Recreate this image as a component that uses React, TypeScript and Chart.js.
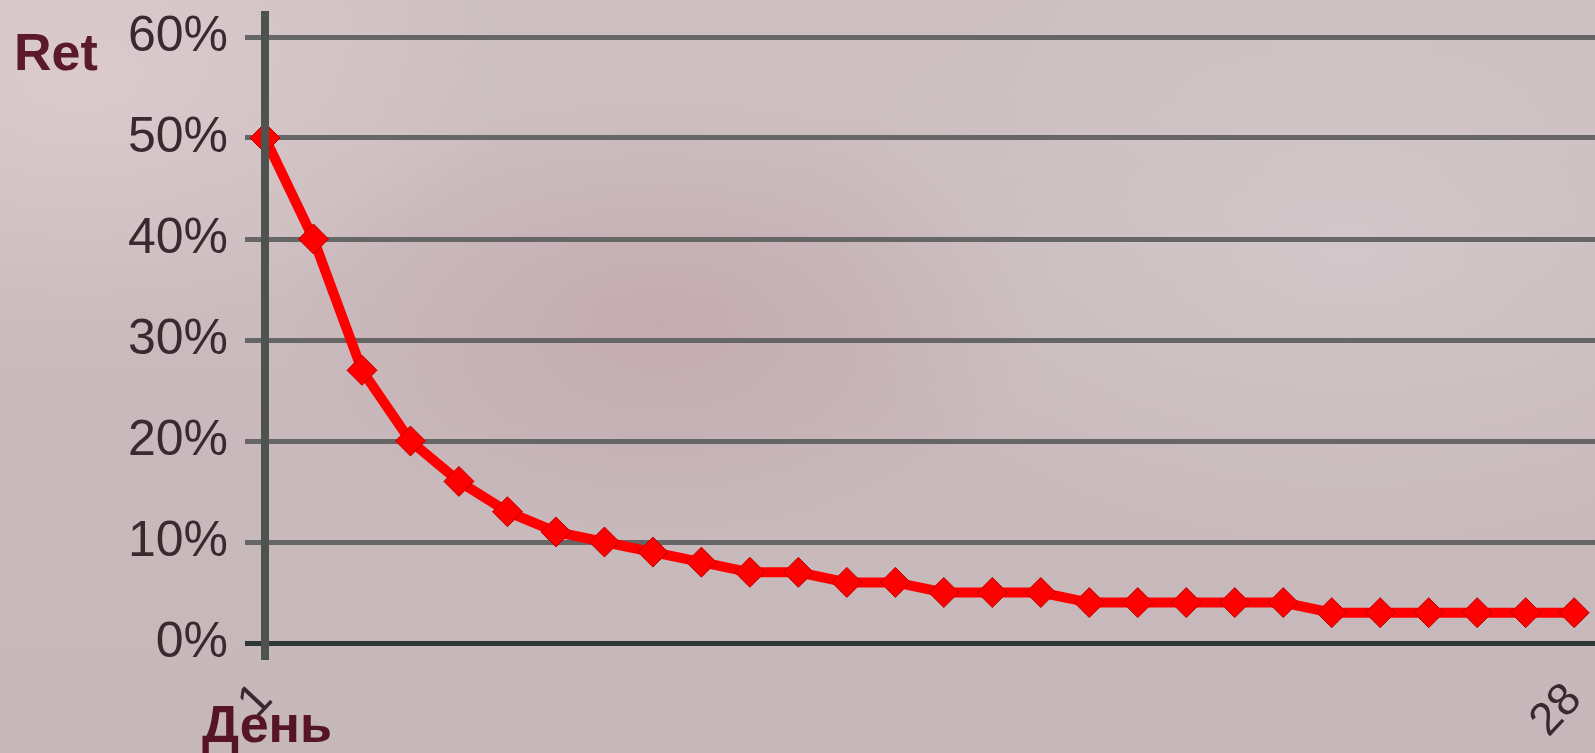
import React, { useEffect, useRef } from "react";
import { Chart, registerables } from "chart.js";

Chart.register(...registerables);

// ---- data ----
const dayNumbers = [1, 2, 3, 4, 5, 6, 7, 8, 9, 10, 11, 12, 13, 14, 15, 16, 17, 18, 19, 20, 21, 22, 23, 24, 25, 26, 27, 28];
const retentionPercent = [50, 40, 27, 20, 16, 13, 11, 10, 9, 8, 7, 7, 6, 6, 5, 5, 5, 4, 4, 4, 4, 4, 3, 3, 3, 3, 3, 3];
const shownDayTicks = [1, 28];
const yTickValues = [0, 10, 20, 30, 40, 50, 60];
const yAxisTitle = "Ret";
const xAxisTitle = "День";

const FONT = '"Liberation Sans", Arial, Helvetica, sans-serif';

const decorPlugin = {
  id: "decor",
  afterDatasetsDraw(chart: any) {
    const { ctx, chartArea, scales } = chart;
    const x0 = scales.x.getPixelForValue(dayNumbers[0]);
    ctx.save();
    ctx.strokeStyle = "#4e5350";
    ctx.lineWidth = 8;
    ctx.beginPath();
    ctx.moveTo(x0, chartArea.top - 26);
    ctx.lineTo(x0, chartArea.bottom + 17);
    ctx.stroke();
    ctx.restore();
  },
  afterDraw(chart: any) {
    const { ctx, scales } = chart;
    const x0 = scales.x.getPixelForValue(dayNumbers[0]);
    ctx.save();
    ctx.font = `bold 52px ${FONT}`;
    ctx.fillStyle = "#5a1a2b";
    ctx.textBaseline = "alphabetic";
    ctx.textAlign = "left";
    ctx.fillText(yAxisTitle, 14, 70);
    ctx.fillStyle = "#561526";
    ctx.textAlign = "center";
    ctx.fillText(xAxisTitle, x0 + 2, 742);
    ctx.restore();
  },
};

export default function App() {
  const canvasRef = useRef<HTMLCanvasElement | null>(null);

  useEffect(() => {
    document.body.style.margin = "0";
    const canvas = canvasRef.current;
    if (!canvas) return;
    const chart = new Chart(canvas, {
      type: "line",
      data: {
        datasets: [
          {
            data: dayNumbers.map((d, i) => ({ x: d, y: retentionPercent[i] })),
            borderColor: "#ff0000",
            borderWidth: 10,
            pointStyle: "rectRot",
            pointRadius: 15,
            pointHoverRadius: 15,
            pointBackgroundColor: "#ff0000",
            pointBorderColor: "#b80000",
            pointBorderWidth: 1,
            tension: 0,
            clip: false as any,
          },
        ],
      },
      options: {
        animation: false,
        responsive: true,
        maintainAspectRatio: false,
        layout: { autoPadding: false, padding: { top: 37, left: 0, right: 0, bottom: 0 } },
        plugins: {
          legend: { display: false },
          tooltip: { enabled: false },
        },
        scales: {
          x: {
            type: "linear",
            min: 1,
            max: 28.43,
            afterBuildTicks: (scale: any) => {
              scale.ticks = shownDayTicks.map((v) => ({ value: v }));
            },
            afterFit: (scale: any) => {
              scale.height = 110;
              scale.paddingLeft = 0;
              scale.paddingRight = 0;
            },
            grid: { display: false, drawTicks: false },
            border: { display: false },
            ticks: {
              autoSkip: false,
              minRotation: 47,
              maxRotation: 47,
              padding: 30,
              color: "#3a2a30",
              font: { family: FONT, size: 46 },
              callback: (v: any) => String(v),
            },
          },
          y: {
            min: 0,
            max: 60,
            afterBuildTicks: (scale: any) => {
              scale.ticks = yTickValues.map((v) => ({ value: v }));
            },
            afterFit: (scale: any) => {
              scale.width = 265;
              scale.paddingTop = 0;
              scale.paddingBottom = 0;
            },
            border: { display: false },
            grid: {
              color: (c: any) => (c.tick && c.tick.value === 0 ? "#2f3735" : "#666666"),
              lineWidth: 5,
              tickLength: 20,
            },
            ticks: {
              padding: 17,
              color: "#3a2a30",
              font: { family: FONT, size: 50 },
              callback: (v: any) => `${v}%`,
            },
          },
        },
      },
      plugins: [decorPlugin],
    });
    return () => chart.destroy();
  }, []);

  return (
    <div
      style={{
        position: "fixed",
        left: 0,
        top: 0,
        width: "100vw",
        height: "100vh",
        background:
          "radial-gradient(ellipse 380px 220px at 660px 320px, rgba(178,128,140,0.26), rgba(178,128,140,0) 100%)," +
          "radial-gradient(ellipse 420px 260px at 80px 80px, rgba(232,212,216,0.55), rgba(232,212,216,0) 100%)," +
          "radial-gradient(ellipse 520px 320px at 1350px 250px, rgba(214,206,208,0.6), rgba(214,206,208,0) 100%)," +
          "linear-gradient(180deg, #cec0c2 0%, #c9b9bc 55%, #c6b8ba 100%)",
      }}
    >
      <canvas ref={canvasRef} />
    </div>
  );
}
